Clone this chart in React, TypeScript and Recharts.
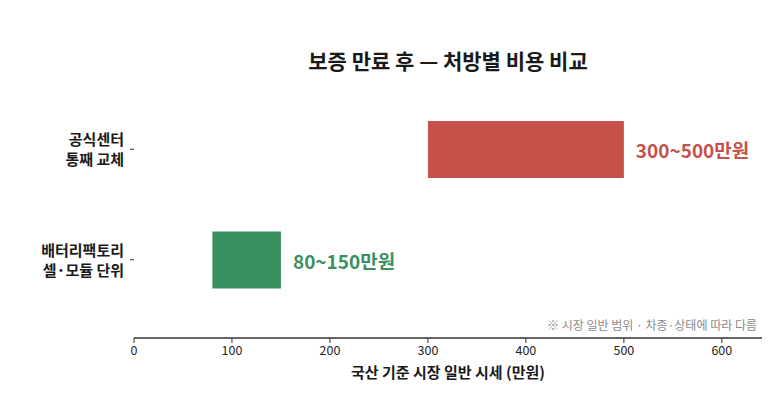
import { BarChart, Bar, XAxis, YAxis, Cell, LabelList, Label } from 'recharts';

const categories = ['공식센터\n통째 교체', '배터리팩토리\n셀·모듈 단위'];
const lowValues = [300, 80];
const highValues = [500, 150];
const rangeLabels = ['300~500만원', '80~150만원'];
const COLORS = ['#C5514A', '#3A9160'];
const xTicks = [0, 100, 200, 300, 400, 500, 600];

const chartData = categories.map((name, i) => ({
  name,
  range: [lowValues[i], highValues[i]],
  label: rangeLabels[i],
}));

const FONT = '"Noto Sans CJK KR", "Noto Sans", sans-serif';

const CategoryTick = ({ x, y, payload }: any) => {
  const lines = String(payload.value).split('\n');
  return (
    <text x={x - 4} y={y} textAnchor="end" fontFamily={FONT} fontWeight={700} fontSize={15} fill="#1a1a1a">
      {lines.map((line, i) => (
        <tspan key={i} x={x - 4} dy={i === 0 ? -4 : 20}>
          {line}
        </tspan>
      ))}
    </text>
  );
};

const RangeLabel = ({ x, y, width, height, index }: any) => (
  <text
    x={x + width + 12}
    y={y + height / 2}
    dominantBaseline="central"
    fontFamily={FONT}
    fontWeight={700}
    fontSize={19}
    fill={COLORS[index % COLORS.length]}
  >
    {rangeLabels[index]}
  </text>
);

const App = () => {
  return (
    <div style={{ position: 'absolute', left: 0, top: 0, width: 773, height: 401, background: '#fff', fontFamily: FONT }}>
      <div
        style={{
          position: 'absolute',
          left: 134,
          width: 628,
          top: 46,
          textAlign: 'center',
          fontSize: 21,
          fontWeight: 700,
          color: '#1a1a1a',
          lineHeight: '28px',
        }}
      >
        보증 만료 후 — 처방별 비용 비교
      </div>
      <div
        style={{
          position: 'absolute',
          right: 16,
          top: 317,
          fontSize: 12,
          color: '#8a8a8a',
          lineHeight: '16px',
        }}
      >
        ※ 시장 일반 범위 · 차종·상태에 따라 다름
      </div>
      <BarChart
        width={773}
        height={401}
        data={chartData}
        layout="vertical"
        margin={{ top: 94, right: 11, bottom: 23, left: 0 }}
      >
        <XAxis
          type="number"
          domain={[0, 641]}
          ticks={xTicks}
          allowDataOverflow
          height={40}
          tickSize={5}
          tickMargin={3}
          tick={{ fontSize: 12.5, fill: '#222', fontFamily: FONT }}
          axisLine={{ stroke: '#333', strokeWidth: 1.5 }}
          tickLine={{ stroke: '#333' }}
        >
          <Label
            value="국산 기준 시장 일반 시세 (만원)"
            position="insideBottom"
            offset={0}
            style={{ fontSize: 15, fontWeight: 700, fill: '#1a1a1a', fontFamily: FONT }}
          />
        </XAxis>
        <YAxis
          type="category"
          dataKey="name"
          width={134}
          axisLine={false}
          tickSize={4}
          tickMargin={2}
          tickLine={{ stroke: '#333' }}
          padding={{ top: 0, bottom: 23 }}
          tick={<CategoryTick />}
        />
        <Bar dataKey="range" barSize={57} isAnimationActive={false}>
          {chartData.map((_, index) => (
            <Cell key={`cell-${index}`} fill={COLORS[index % COLORS.length]} />
          ))}
          <LabelList dataKey="label" content={<RangeLabel />} />
        </Bar>
      </BarChart>
    </div>
  );
};

export default App;
